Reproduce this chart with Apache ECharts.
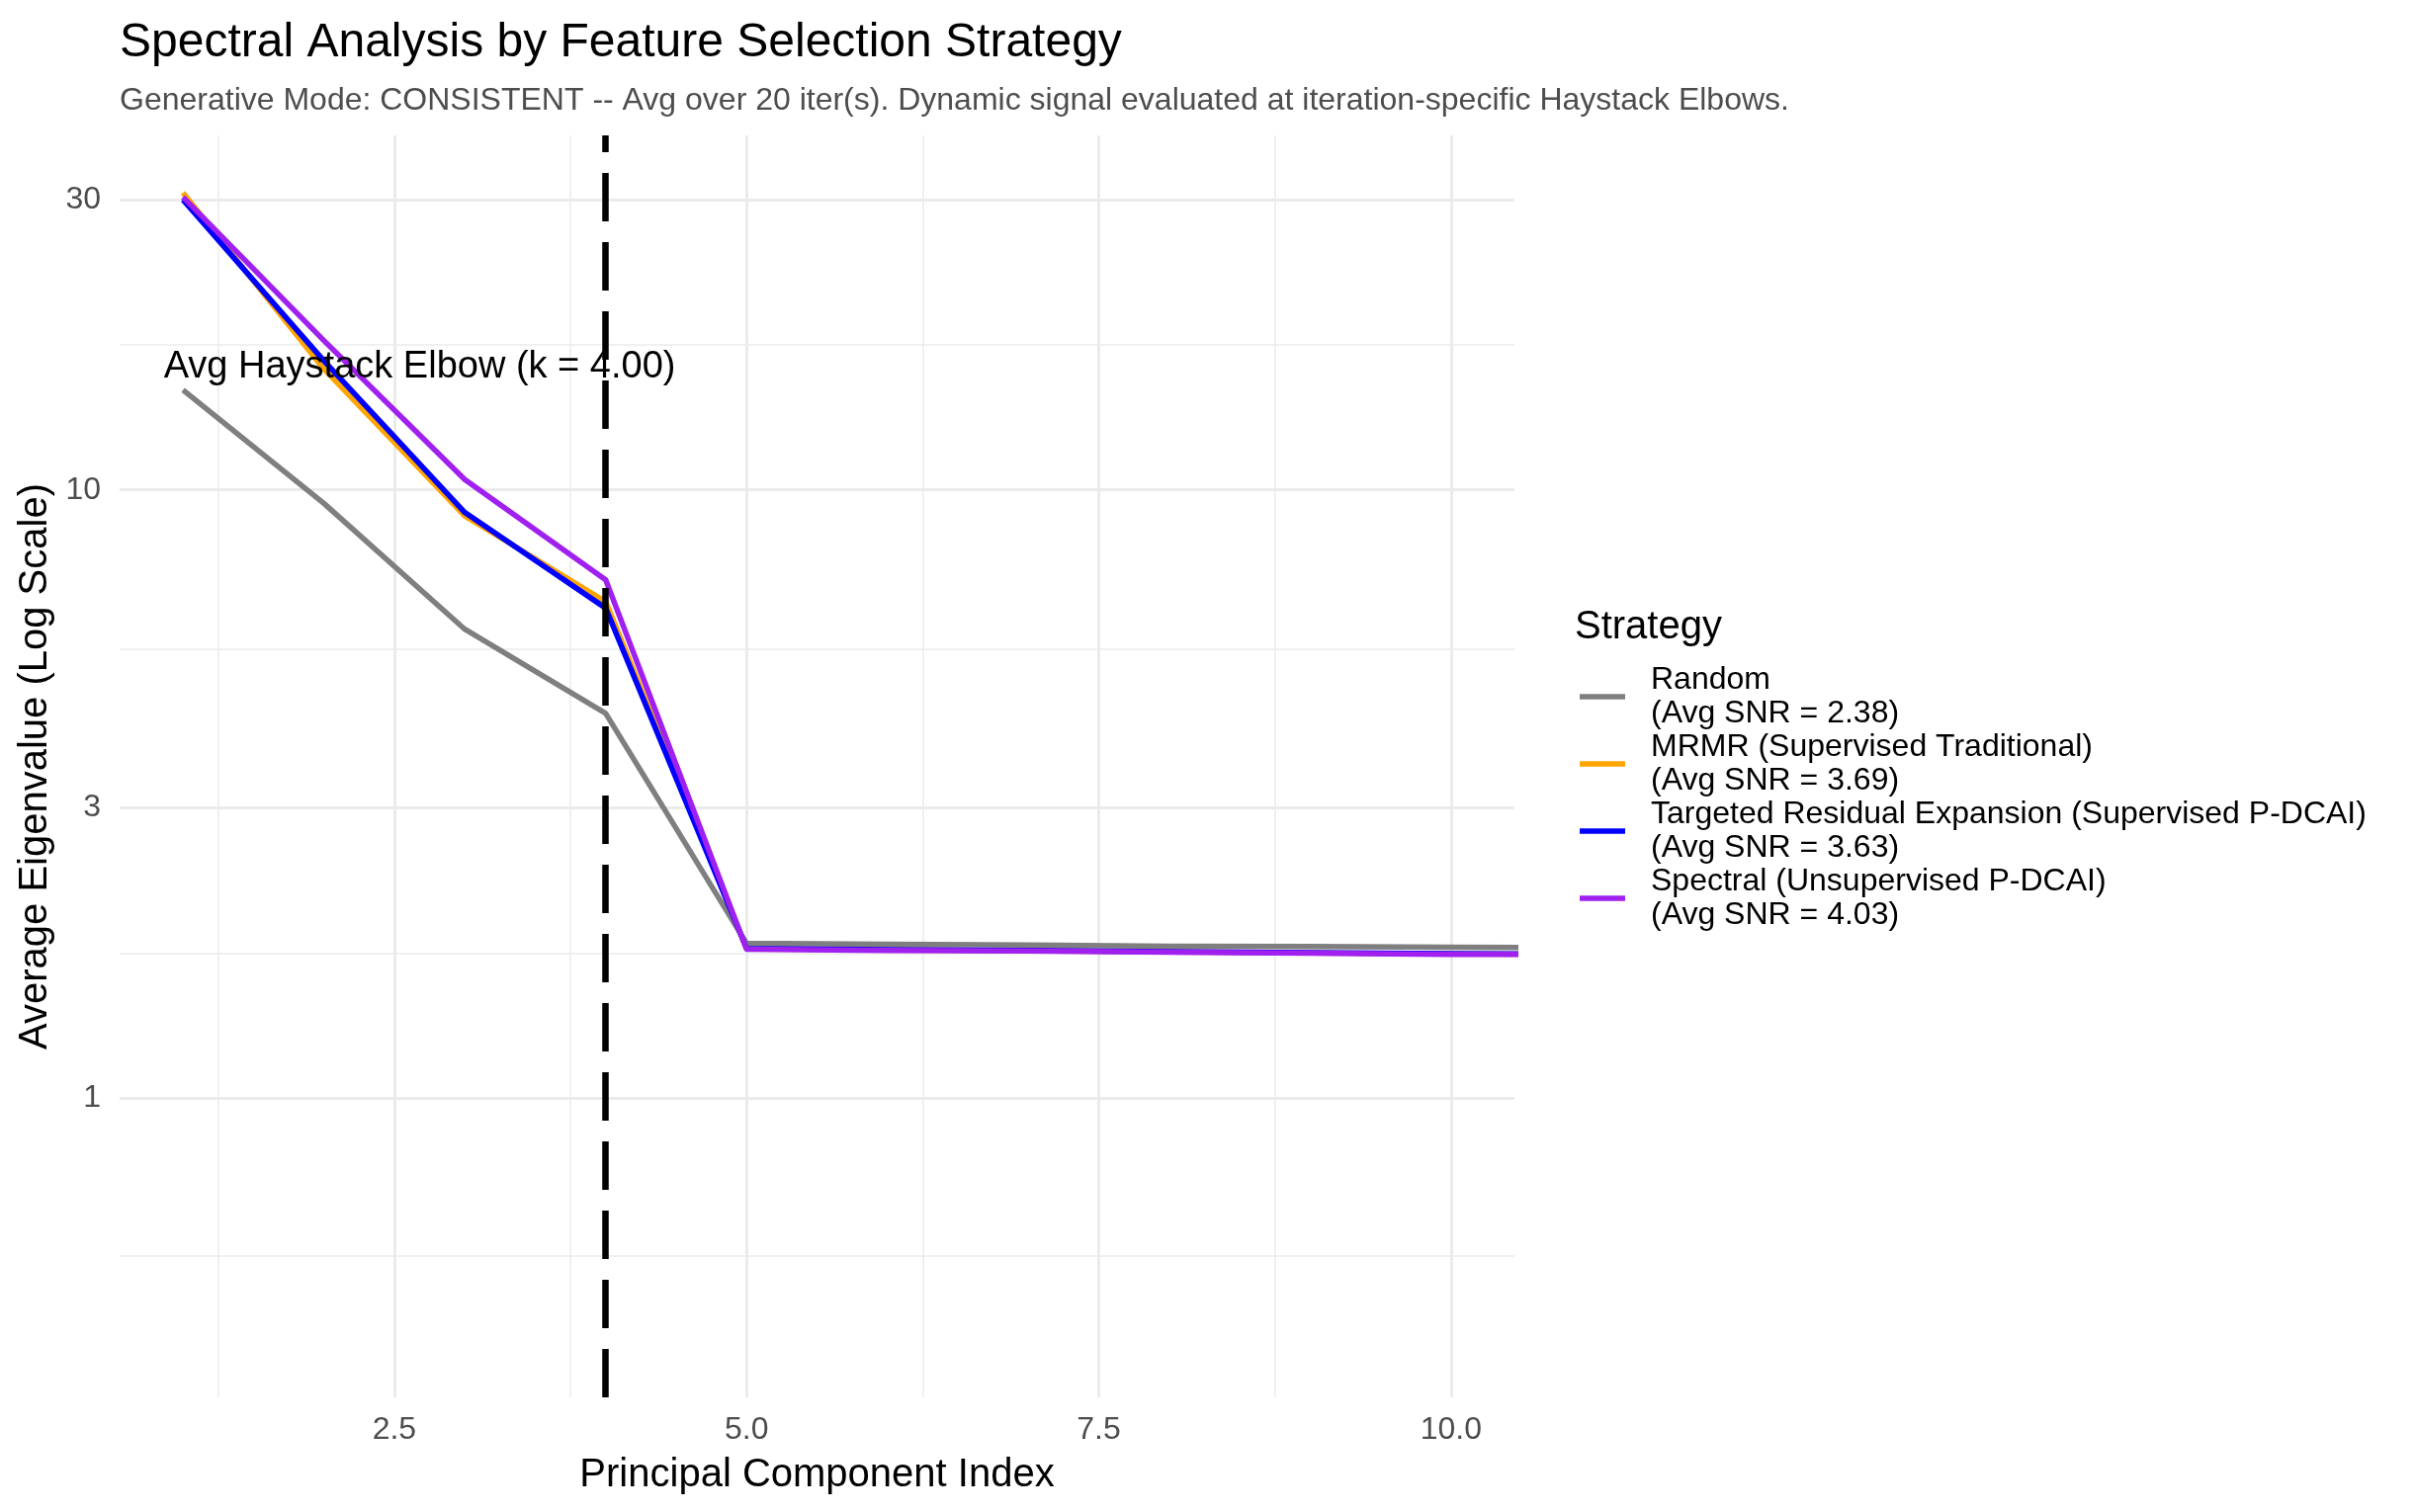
<!DOCTYPE html>
<html>
<head>
<meta charset="utf-8">
<script src="https://cdn.jsdelivr.net/npm/echarts@6/dist/echarts.min.js"></script>
<style>
  html, body { margin: 0; padding: 0; background: #ffffff; }
  #chart { width: 2442px; height: 1530px; }
</style>
</head>
<body>
<div id="chart"></div>
<script>
// ---- data ----
const pcIndex = [1, 2, 3, 4, 5, 6, 7, 8, 9, 10, 11];
const randomVals   = [14.6, 9.5, 5.90, 4.29, 1.796, 1.789, 1.784, 1.776, 1.774, 1.769, 1.767];
const mrmrVals     = [30.8, 15.8, 9.06, 6.55, 1.760, 1.752, 1.747, 1.739, 1.732, 1.725, 1.723];
const treVals      = [30.0, 16.3, 9.18, 6.39, 1.762, 1.754, 1.749, 1.741, 1.734, 1.727, 1.725];
const spectralVals = [30.3, 17.6, 10.4, 7.11, 1.757, 1.749, 1.745, 1.737, 1.730, 1.723, 1.721];

const seriesNames = [
  'Random\n(Avg SNR = 2.38)',
  'MRMR (Supervised Traditional)\n(Avg SNR = 3.69)',
  'Targeted Residual Expansion (Supervised P-DCAI)\n(Avg SNR = 3.63)',
  'Spectral (Unsupervised P-DCAI)\n(Avg SNR = 4.03)'
];
const seriesColors = ['#7F7F7F', '#FFA500', '#0000FF', '#A020F0'];

const xTicks = [2.5, 5, 7.5, 10];
const xTickLabels = ['2.5', '5.0', '7.5', '10.0'];
const xMinor = [1.25, 3.75, 6.25, 8.75];
const yTicks = [1, 3, 10, 30];
const yMinor = [0.5477, 1.732, 5.477, 17.32];

const elbowK = 4.00;
const annotationText = 'Avg Haystack Elbow (k = 4.00)';
const titleText = 'Spectral Analysis by Feature Selection Strategy';
const subtitleText = 'Generative Mode: CONSISTENT -- Avg over 20 iter(s). Dynamic signal evaluated at iteration-specific Haystack Elbows.';

// ---- chart ----
const FONT = '"Liberation Sans", Arial, Helvetica, sans-serif';
const chart = echarts.init(document.getElementById('chart'), null, { renderer: 'canvas' });

const valueSets = [randomVals, mrmrVals, treVals, spectralVals];
const lineSeries = valueSets.map((vals, i) => ({
  name: seriesNames[i],
  type: 'line',
  data: pcIndex.map((x, j) => [x, vals[j]]),
  color: seriesColors[i],
  showSymbol: false,
  symbol: 'none',
  clip: true,
  lineStyle: { width: 5.5, color: seriesColors[i], join: 'round', cap: 'butt' },
  emphasis: { disabled: true },
  z: 3 + i
}));

const gridLine = (w) => ({ color: '#EBEBEB', width: w, type: 'solid' });
const gridMarks = []
  .concat(yMinor.map(v => ({ yAxis: v, lineStyle: gridLine(1.5) })))
  .concat(xMinor.map(v => ({ xAxis: v, lineStyle: gridLine(1.5) })))
  .concat(yTicks.map(v => ({ yAxis: v, lineStyle: gridLine(3) })))
  .concat(xTicks.map(v => ({ xAxis: v, lineStyle: gridLine(3) })));

const gridSeries = {
  name: '__grid',
  type: 'line',
  data: [],
  z: 1,
  silent: true,
  markLine: {
    z: 1,
    silent: true,
    symbol: ['none', 'none'],
    label: { show: false },
    emphasis: { disabled: true },
    animation: false,
    data: gridMarks
  }
};

const annotSeries = {
  name: '__annot',
  type: 'line',
  data: [],
  z: 10,
  silent: true,
  markLine: {
    z: 10,
    silent: true,
    symbol: ['none', 'none'],
    label: { show: false },
    emphasis: { disabled: true },
    animation: false,
    lineStyle: { color: '#000000', width: 6.5, type: [49, 21], dashOffset: 0, cap: 'butt' },
    data: [{ xAxis: elbowK }]
  },
  markPoint: {
    z: 11,
    silent: true,
    symbol: 'circle',
    symbolSize: 1,
    itemStyle: { color: 'rgba(0,0,0,0)' },
    animation: false,
    label: {
      show: true,
      position: 'inside',
      formatter: annotationText,
      fontFamily: FONT,
      fontSize: 38,
      color: '#000000'
    },
    data: [{ coord: [2.68, 15.9] }]
  }
};

const option = {
  animation: false,
  backgroundColor: '#ffffff',
  title: [
    { text: titleText, left: 121, top: 20, padding: 0,
      textStyle: { fontFamily: FONT, fontSize: 48, fontWeight: 'normal', color: '#000000' } },
    { text: subtitleText, left: 121, top: 86, padding: 0,
      textStyle: { fontFamily: FONT, fontSize: 32, fontWeight: 'normal', color: '#4D4D4D' } }
  ],
  grid: { left: 121, right: 910, top: 137, bottom: 116, containLabel: false },
  xAxis: {
    type: 'value',
    min: 0.55,
    max: 10.45,
    name: 'Principal Component Index',
    nameLocation: 'middle',
    nameGap: 59,
    nameTextStyle: { fontFamily: FONT, fontSize: 40, color: '#000000' },
    axisLine: { show: false },
    axisTick: { show: false, customValues: xTicks },
    splitLine: { show: false },
    axisLabel: {
      customValues: xTicks,
      formatter: (v) => xTickLabels[xTicks.indexOf(v)] ?? String(v),
      fontFamily: FONT, fontSize: 32, color: '#4D4D4D', margin: 17
    }
  },
  yAxis: {
    type: 'log',
    logBase: 10,
    min: 0.3219,
    max: 38.27,
    name: 'Average Eigenvalue (Log Scale)',
    nameLocation: 'middle',
    nameGap: 61,
    nameTextStyle: { fontFamily: FONT, fontSize: 40, color: '#000000' },
    axisLine: { show: false },
    axisTick: { show: false, customValues: yTicks },
    splitLine: { show: false },
    axisLabel: {
      customValues: yTicks,
      formatter: (v) => String(Math.round(v)),
      fontFamily: FONT, fontSize: 32, color: '#4D4D4D', margin: 19
    }
  },
  legend: {
    orient: 'vertical',
    left: 1598,
    top: 671,
    padding: 0,
    itemGap: 0,
    itemWidth: 46,
    itemHeight: 5.5,
    icon: 'rect',
    selectedMode: false,
    data: seriesNames,
    textStyle: { fontFamily: FONT, fontSize: 32, lineHeight: 34, color: '#000000', padding: [0, 0, 0, 21] }
  },
  graphic: [
    { type: 'text', left: 1593, top: 615,
      style: { text: 'Strategy', fontFamily: FONT, fontSize: 40, fill: '#000000' } }
  ],
  series: [gridSeries].concat(lineSeries).concat([annotSeries])
};

chart.setOption(option);
</script>
</body>
</html>
